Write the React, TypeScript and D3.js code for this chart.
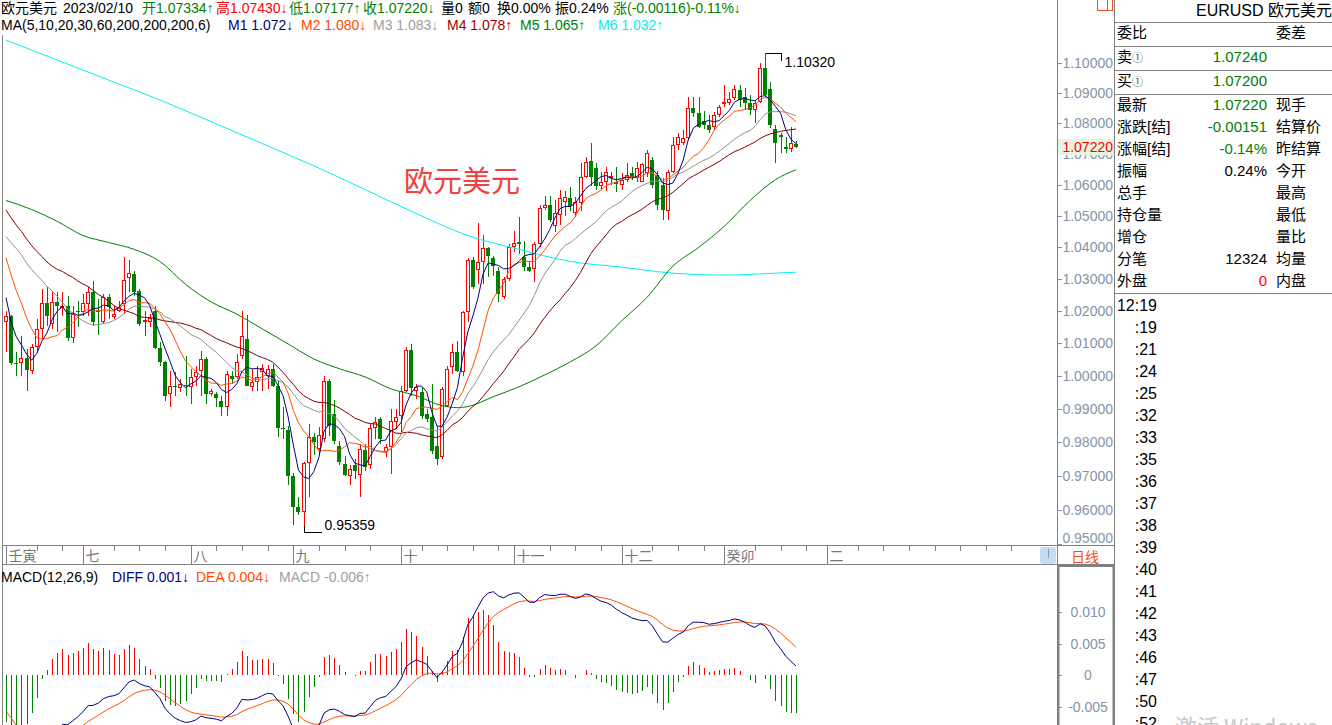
import React from "react";
import * as d3 from "d3";

// ---------- DATA ----------
// Daily closes before the visible window (used for moving averages / MACD warm-up)
const PRIOR_CLOSES = [
  1.0510, 1.0525, 1.0620, 1.0540, 1.0550, 1.0560, 1.0530, 1.0515, 1.0380, 1.0410,
  1.0435, 1.0550, 1.0465, 1.0585, 1.0565, 1.0690, 1.0735, 1.0680, 1.0725, 1.0735,
  1.0780, 1.0735, 1.0650, 1.0750, 1.0720, 1.0695, 1.0705, 1.0715, 1.0615, 1.0520,
  1.0410, 1.0415, 1.0445, 1.0545, 1.0495, 1.0510, 1.0535, 1.0565, 1.0520, 1.0555,
  1.0585, 1.0520, 1.0445, 1.0480, 1.0425, 1.0420, 1.0265, 1.0180, 1.0160,
];

const OPEN = [
  1.0166, 1.0184, 1.0040, 1.0040, 1.0055, 1.0016, 1.0089, 1.0144, 1.0225, 1.0159,
  1.0228, 1.0210, 1.0215, 1.0116, 1.0200, 1.0197, 1.0222, 1.0259, 1.0203, 1.0166,
  1.0243, 1.0181, 1.0200, 1.0222, 1.0302, 1.0315, 1.0262, 1.0166, 1.0166, 1.0200,
  1.0086, 1.0043, 0.9946, 0.9970, 0.9964, 0.9973, 0.9967, 0.9997, 1.0016, 1.0052,
  0.9946, 0.9946, 0.9925, 0.9907, 1.0000, 0.9997, 1.0061, 1.0113, 0.9967, 0.9982,
  1.0013, 1.0000, 1.0022, 0.9970, 0.9844, 0.9838, 0.9701, 0.9610, 0.9595, 0.9739,
  0.9817, 0.9781, 0.9811, 0.9985, 0.9886, 0.9790, 0.9736, 0.9701, 0.9731, 0.9704,
  0.9778, 0.9731, 0.9844, 0.9871, 0.9772, 0.9787, 0.9862, 0.9880, 0.9955, 1.0080,
  0.9955, 0.9952, 0.9886, 0.9877, 0.9790, 0.9757, 0.9910, 1.0028, 1.0074, 1.0013,
  1.0197, 1.0359, 1.0327, 1.0352, 1.0396, 1.0365, 1.0324, 1.0243, 1.0299, 1.0402,
  1.0415, 1.0368, 1.0337, 1.0330, 1.0409, 1.0526, 1.0536, 1.0466, 1.0504, 1.0545,
  1.0558, 1.0510, 1.0542, 1.0626, 1.0677, 1.0655, 1.0594, 1.0607, 1.0623, 1.0610,
  1.0600, 1.0616, 1.0639, 1.0623, 1.0610, 1.0639, 1.0681, 1.0632, 1.0600, 1.0514,
  1.0642, 1.0729, 1.0736, 1.0752, 1.0851, 1.0834, 1.0808, 1.0795, 1.0788, 1.0828,
  1.0868, 1.0868, 1.0884, 1.0910, 1.0887, 1.0868, 1.0844, 1.0871, 1.0983, 1.0913,
  1.0781, 1.0762, 1.0723, 1.0716, 1.07334,
];

const HIGH = [
  1.0200, 1.0187, 1.0074, 1.0122, 1.0083, 1.0098, 1.0175, 1.0268, 1.0274, 1.0259,
  1.0259, 1.0259, 1.0246, 1.0215, 1.0231, 1.0252, 1.0274, 1.0293, 1.0237, 1.0252,
  1.0252, 1.0215, 1.0231, 1.0368, 1.0359, 1.0324, 1.0268, 1.0200, 1.0190, 1.0215,
  1.0104, 1.0046, 1.0016, 1.0013, 0.9991, 1.0061, 1.0022, 1.0031, 1.0077, 1.0058,
  0.9961, 0.9952, 0.9940, 1.0016, 1.0016, 1.0068, 1.0200, 1.0187, 1.0022, 1.0031,
  1.0037, 1.0034, 1.0037, 0.9985, 0.9907, 0.9850, 0.9710, 0.9639, 0.9742, 0.9856,
  0.9829, 0.9847, 1.0000, 0.9991, 0.9928, 0.9805, 0.9760, 0.9731, 0.9751, 0.9796,
  0.9796, 0.9856, 0.9877, 0.9877, 0.9796, 0.9901, 0.9901, 0.9970, 1.0089, 1.0098,
  0.9976, 0.9967, 0.9901, 0.9976, 0.9850, 0.9967, 1.0031, 1.0098, 1.0107, 1.0200,
  1.0365, 1.0368, 1.0478, 1.0440, 1.0402, 1.0371, 1.0336, 1.0305, 1.0409, 1.0450,
  1.0497, 1.0420, 1.0355, 1.0415, 1.0536, 1.0564, 1.0564, 1.0552, 1.0584, 1.0580,
  1.0593, 1.0561, 1.0671, 1.0690, 1.0736, 1.0671, 1.0642, 1.0658, 1.0642, 1.0658,
  1.0639, 1.0671, 1.0658, 1.0674, 1.0671, 1.0713, 1.0690, 1.0645, 1.0620, 1.0648,
  1.0755, 1.0768, 1.0778, 1.0887, 1.0887, 1.0887, 1.0840, 1.0828, 1.0838, 1.0861,
  1.0927, 1.0903, 1.0927, 1.0927, 1.0917, 1.0894, 1.0877, 1.1000, 1.1032, 1.0937,
  1.0795, 1.0768, 1.0755, 1.0788, 1.0743,
];

const LOW = [
  1.0074, 1.0034, 1.0000, 1.0000, 0.9955, 1.0007, 1.0074, 1.0113, 1.0153, 1.0144,
  1.0135, 1.0184, 1.0107, 1.0101, 1.0150, 1.0184, 1.0184, 1.0153, 1.0126, 1.0159,
  1.0175, 1.0175, 1.0197, 1.0190, 1.0259, 1.0246, 1.0153, 1.0122, 1.0150, 1.0083,
  1.0031, 0.9925, 0.9907, 0.9940, 0.9952, 0.9940, 0.9916, 0.9970, 0.9940, 0.9916,
  0.9940, 0.9907, 0.9880, 0.9880, 0.9976, 0.9991, 1.0052, 0.9968, 0.9955, 0.9955,
  0.9955, 0.9961, 0.9967, 0.9817, 0.9811, 0.9672, 0.9555, 0.9584, 0.95359, 0.9639,
  0.9763, 0.9766, 0.9802, 0.9820, 0.9796, 0.9731, 0.9701, 0.9672, 0.9692, 0.9639,
  0.9716, 0.9722, 0.9811, 0.9796, 0.9757, 0.9707, 0.9841, 0.9832, 0.9952, 0.9940,
  0.9931, 0.9871, 0.9862, 0.9766, 0.9731, 0.9751, 0.9907, 1.0007, 1.0013, 1.0000,
  1.0166, 1.0268, 1.0284, 1.0284, 1.0305, 1.0308, 1.0228, 1.0237, 1.0293, 1.0384,
  1.0377, 1.0324, 1.0321, 1.0290, 1.0402, 1.0520, 1.0481, 1.0447, 1.0472, 1.0500,
  1.0514, 1.0497, 1.0514, 1.0622, 1.0594, 1.0584, 1.0584, 1.0578, 1.0600, 1.0575,
  1.0584, 1.0607, 1.0616, 1.0607, 1.0607, 1.0626, 1.0590, 1.0520, 1.0488, 1.0488,
  1.0639, 1.0713, 1.0729, 1.0746, 1.0821, 1.0785, 1.0780, 1.0768, 1.0778, 1.0821,
  1.0854, 1.0861, 1.0877, 1.0854, 1.0844, 1.0828, 1.0801, 1.0868, 1.0887, 1.0785,
  1.0671, 1.0703, 1.0703, 1.0706, 1.07177,
];

const CLOSE = [
  1.0184, 1.0040, 1.0037, 1.0055, 1.0019, 1.0089, 1.0144, 1.0225, 1.0184, 1.0228,
  1.0215, 1.0216, 1.0116, 1.0190, 1.0196, 1.0225, 1.0259, 1.0166, 1.0198, 1.0243,
  1.0212, 1.0190, 1.0212, 1.0296, 1.0318, 1.0259, 1.0159, 1.0172, 1.0178, 1.0086,
  1.0043, 0.9940, 0.9970, 0.9966, 0.9976, 0.9968, 0.9997, 1.0013, 1.0052, 0.9946,
  0.9955, 0.9934, 0.9907, 1.0007, 0.9991, 1.0043, 1.0122, 0.9970, 0.9982, 0.9997,
  1.0025, 1.0022, 0.9970, 0.9844, 0.9841, 0.9701, 0.9610, 0.9595, 0.9739, 0.9817,
  0.9802, 0.9823, 0.9985, 0.9850, 0.9805, 0.9742, 0.9704, 0.9722, 0.9716, 0.9781,
  0.9728, 0.9844, 0.9862, 0.9811, 0.9787, 0.9865, 0.9877, 0.9955, 1.0080, 0.9964,
  0.9967, 0.9880, 0.9871, 0.9775, 0.9751, 0.9961, 1.0022, 1.0074, 1.0016, 1.0197,
  1.0359, 1.0274, 1.0352, 1.0396, 1.0371, 1.0340, 1.0252, 1.0299, 1.0402, 1.0412,
  1.0410, 1.0337, 1.0324, 1.0409, 1.0526, 1.0533, 1.0488, 1.0510, 1.0558, 1.0561,
  1.0530, 1.0545, 1.0626, 1.0674, 1.0626, 1.0594, 1.0610, 1.0642, 1.0629, 1.0603,
  1.0616, 1.0632, 1.0626, 1.0655, 1.0668, 1.0703, 1.0600, 1.0536, 1.0520, 1.0642,
  1.0729, 1.0755, 1.0752, 1.0851, 1.0834, 1.0788, 1.0795, 1.0778, 1.0828, 1.0854,
  1.0871, 1.0881, 1.0913, 1.0877, 1.0868, 1.0844, 1.0868, 1.0983, 1.0894, 1.0795,
  1.0736, 1.0755, 1.0716, 1.0736, 1.0722,
];

// MA60 and MA200 at these bar indices
const MA60_IDX = [0, 5, 10, 15, 20, 25, 30, 35, 40, 45, 50, 55, 60, 65, 70, 75, 80, 85, 88, 90, 95, 100, 105, 110, 115, 120, 125, 130, 135, 140, 145, 150, 154];
const MA60_VAL = [1.0549, 1.0520, 1.0482, 1.0437, 1.0415, 1.0393, 1.0355, 1.0283, 1.0228, 1.0190, 1.0144, 1.0098, 1.0052, 1.0022, 0.9997, 0.9961, 0.9940, 0.9910, 0.9904, 0.9907, 0.9937, 0.9967, 1.0003, 1.0043, 1.0092, 1.0169, 1.0243, 1.0340, 1.0399, 1.0466, 1.0548, 1.0616, 1.0648];
const MA200_IDX = [0, 10, 20, 30, 40, 50, 60, 70, 80, 90, 100, 110, 120, 130, 140, 150, 154];
const MA200_VAL = [1.1077, 1.1010, 1.0943, 1.0877, 1.0805, 1.0733, 1.0661, 1.0584, 1.0507, 1.0437, 1.0393, 1.0355, 1.0337, 1.0318, 1.0312, 1.0318, 1.0321];

const PRICE_TICKS = [1.10, 1.09, 1.08, 1.07, 1.06, 1.05, 1.04, 1.03, 1.02, 1.01, 1.00, 0.99, 0.98, 0.97, 0.96, 0.95];
const MACD_TICKS = [0.01, 0.005, 0, -0.005];
const MACD_TICK_LABELS = ["0.010", "0.005", "0", "-0.005"];

const MONTH_LABELS = ["壬寅", "七", "八", "九", "十", "十一", "十二", "癸卯", "二"];
const MONTH_IDX = [0, 15, 36, 56, 77, 99, 120, 140, 160];

const LAST_PRICE = 1.0722;

const HEADER1 = [
  { t: "欧元美元", x: 1, c: "#000" },
  { t: "2023/02/10", x: 63, c: "#000" },
  { t: "开1.07334↑", x: 142, c: "#008000" },
  { t: "高1.07430↓", x: 216, c: "#ff0000" },
  { t: "低1.07177↑", x: 289, c: "#008000" },
  { t: "收1.07220↓", x: 363, c: "#008000" },
  { t: "量0", x: 441, c: "#000" },
  { t: "额0", x: 468, c: "#000" },
  { t: "换0.00%", x: 497, c: "#000" },
  { t: "振0.24%", x: 555, c: "#000" },
  { t: "涨(-0.00116)-0.11%↓", x: 613, c: "#008000" },
];
const HEADER2 = [
  { t: "MA(5,10,20,30,60,200,200,200,6)", x: 1, c: "#000" },
  { t: "M1 1.072↓", x: 228, c: "#000080" },
  { t: "M2 1.080↓", x: 301, c: "#ff4a00" },
  { t: "M3 1.083↓", x: 373, c: "#a0a0a0" },
  { t: "M4 1.078↑", x: 447, c: "#990000" },
  { t: "M5 1.065↑", x: 520, c: "#008000" },
  { t: "M6 1.032↑", x: 598, c: "#00f0f0" },
];
const MACD_HEADER = [
  { t: "MACD(12,26,9)", x: 1, c: "#000" },
  { t: "DIFF 0.001↓", x: 112, c: "#000080" },
  { t: "DEA 0.004↓", x: 196, c: "#ff4a00" },
  { t: "MACD -0.006↑", x: 279, c: "#a0a0a0" },
];

const PANEL_ROWS = [
  ["最新", "1.07220", "现手", "#008000"],
  ["涨跌[结]", "-0.00151", "结算价", "#008000"],
  ["涨幅[结]", "-0.14%", "昨结算", "#008000"],
  ["振幅", "0.24%", "今开", "#000"],
  ["总手", "", "最高", "#000"],
  ["持仓量", "", "最低", "#000"],
  ["增仓", "", "量比", "#000"],
  ["分笔", "12324", "均量", "#000"],
  ["外盘", "0", "内盘", "#ff0000"],
];
const TIMES = ["12:19", ":19", ":21", ":24", ":25", ":32", ":33", ":35", ":36", ":37", ":38", ":39", ":40", ":41", ":42", ":43", ":46", ":47", ":50", ":52"];

const FONT = "Arial, 'Liberation Sans', 'Noto Sans CJK SC', sans-serif";
const CJK = "'Noto Sans CJK SC', Arial, sans-serif";
const UP = "#ff0000";
const DOWN = "#008000";
const AXIS_TXT = "#8494aa";
const LINE = "#808080";

function ema(arr: number[], n: number) {
  const k = 2 / (n + 1);
  let e = arr[0];
  return arr.map((v, i) => (e = i === 0 ? v : e + k * (v - e)));
}

export default function App() {
  const N = CLOSE.length;
  const P = PRIOR_CLOSES.length;
  const x = d3.scaleLinear().domain([0, N - 1]).range([6, 796]);
  const y = d3.scaleLog().domain([0.96, 1.1]).range([510, 63]);
  const ym = d3.scaleLinear().domain([-0.005, 0.01]).range([706.5, 612]);

  const all = PRIOR_CLOSES.concat(CLOSE);
  const ma = (n: number) => CLOSE.map((_, i) => d3.mean(all.slice(P + i - n + 1, P + i + 1)) as number);
  const maLines = [
    { v: ma(30), c: "#800000" },
    { v: ma(20), c: "#909090" },
    { v: ma(10), c: "#ff5000" },
    { v: ma(5), c: "#000080" },
  ];
  const lineGen = d3.line<number>().x((_, i) => x(i)).y((d) => y(d));
  const sampled = d3
    .line<[number, number]>()
    .x((d) => x(d[0]))
    .y((d) => y(d[1]))
    .curve(d3.curveMonotoneX);
  const ma60 = MA60_IDX.map((k, j) => [k, MA60_VAL[j]] as [number, number]);
  const ma200 = MA200_IDX.map((k, j) => [k, MA200_VAL[j]] as [number, number]);

  const e12 = ema(all, 12);
  const e26 = ema(all, 26);
  const diffAll = all.map((_, i) => e12[i] - e26[i]);
  const deaAll = ema(diffAll, 9);
  const diff = diffAll.slice(P);
  const dea = deaAll.slice(P);
  const hist = diff.map((d, i) => 2 * (d - dea[i]));
  const macdLine = d3.line<number>().x((_, i) => x(i)).y((d) => ym(d));

  const hiI = d3.maxIndex(HIGH);
  const loI = d3.minIndex(LOW);
  const px = (i: number) => Math.round(x(i)) + 0.5;

  const weekTicks: number[] = [];
  for (let i = 1; x(i) < 1036; i += 5) {
    if (MONTH_IDX.every((m) => Math.abs(m - i) > 2)) weekTicks.push(i);
  }

  const fmt = d3.format(".5f");
  const lastY = Math.round(y(LAST_PRICE));

  return (
    <svg
      width={1332}
      height={725}
      style={{ position: "absolute", left: 0, top: 0, background: "#fff" }}
      fontFamily={FONT}
    >
      <defs>
        <clipPath id="mainClip">
          <rect x={2} y={33} width={1055} height={512} />
        </clipPath>
        <clipPath id="macdClip">
          <rect x={2} y={566} width={1055} height={159} />
        </clipPath>
        <clipPath id="under">
          <rect x={1058} y={lastY + 8} width={56} height={10} />
        </clipPath>
      </defs>
      <rect x={0} y={0} width={1332} height={725} fill="#fff" />

      {/* header rows */}
      <g fontSize={14}>
        {HEADER1.map((h) => (
          <text key={h.t} x={h.x} y={13} fill={h.c}>
            {h.t}
          </text>
        ))}
        {HEADER2.map((h) => (
          <text key={h.t} x={h.x} y={30} fill={h.c}>
            {h.t}
          </text>
        ))}
      </g>

      {/* frame lines */}
      <g stroke={LINE} strokeWidth={1} shapeRendering="crispEdges">
        <line x1={2.5} y1={35} x2={2.5} y2={725} />
        <line x1={1057.5} y1={0} x2={1057.5} y2={725} />
        <line x1={1114.5} y1={0} x2={1114.5} y2={725} />
        <line x1={2} y1={545.5} x2={1114} y2={545.5} />
        <line x1={2} y1={564.5} x2={1114} y2={564.5} />
      </g>

      {/* watermark name */}
      <text x={404} y={192} fontSize={29} fill="#f04040" fontFamily={CJK}>
        欧元美元
      </text>

      {/* candles */}
      <g clipPath="url(#mainClip)" shapeRendering="crispEdges">
        {CLOSE.map((c, i) => {
          const o = OPEN[i];
          const cx = px(i);
          const up = c >= o;
          const top = Math.round(y(Math.max(o, c)));
          const bot = Math.round(y(Math.min(o, c)));
          const hy = Math.round(y(HIGH[i]));
          const ly = Math.round(y(LOW[i]));
          const col = up ? UP : DOWN;
          if (up) {
            const h = Math.max(bot - top, 1);
            return (
              <g key={i} stroke={col}>
                <line x1={cx} x2={cx} y1={hy} y2={top} />
                <line x1={cx} x2={cx} y1={top + h} y2={ly} />
                <rect x={cx - 2} y={top + 0.5} width={3} height={Math.max(h - 1, 0.5)} fill="#fff" />
              </g>
            );
          }
          return (
            <g key={i}>
              <line x1={cx} x2={cx} y1={hy} y2={ly} stroke={col} />
              <rect x={cx - 2.5} y={top} width={4} height={Math.max(bot - top, 1)} fill={col} />
            </g>
          );
        })}
      </g>

      {/* moving averages */}
      <g clipPath="url(#mainClip)" fill="none" strokeWidth={1}>
        <path d={sampled(ma200) || ""} stroke="#00f0f0" />
        <path d={sampled(ma60) || ""} stroke="#008000" />
        {maLines.map((m, k) => (
          <path key={k} d={lineGen(m.v) || ""} stroke={m.c} />
        ))}
      </g>

      {/* high / low annotations */}
      <g stroke="#000" strokeWidth={1} shapeRendering="crispEdges" fill="none">
        <polyline points={`${px(hiI)},${Math.round(y(HIGH[hiI])) + 0.5} ${px(hiI) + 16},${Math.round(y(HIGH[hiI])) + 0.5} ${px(hiI) + 16},${Math.round(y(HIGH[hiI])) + 8}`} />
        <polyline points={`${px(loI)},${Math.round(y(LOW[loI])) - 6} ${px(loI)},${Math.round(y(LOW[loI])) + 0.5} ${px(loI) + 17},${Math.round(y(LOW[loI])) + 0.5}`} />
      </g>
      <text x={px(hiI) + 19} y={Math.round(y(HIGH[hiI])) + 14} fontSize={14} fill="#000">
        {fmt(HIGH[hiI])}
      </text>
      <text x={px(loI) + 20} y={Math.round(y(LOW[loI])) - 2} fontSize={14} fill="#000">
        {fmt(LOW[loI])}
      </text>

      {/* price axis */}
      <g fontSize={14} fill={AXIS_TXT}>
        {PRICE_TICKS.map((t) => {
          const ty = Math.round(y(t));
          const ly = Math.min(ty, 538);
          const hidden = Math.abs(ty - lastY) < 12;
          return (
            <g key={t}>
              {ty < 545 && <line x1={1058} x2={1062} y1={ty + 0.5} y2={ty + 0.5} stroke={AXIS_TXT} shapeRendering="crispEdges" />}
              <text x={1113} y={ly + 5} textAnchor="end" clipPath={hidden ? "url(#under)" : undefined}>
                {fmt(t)}
              </text>
            </g>
          );
        })}
      </g>
      <rect x={1058} y={lastY - 8} width={56} height={16} fill="#e9f3e3" />
      <text x={1113} y={lastY + 5} textAnchor="end" fontSize={14} fill="#ff0000">
        {fmt(LAST_PRICE)}
      </text>

      {/* top-right small icon */}
      <g stroke="#e8501e" fill="none" shapeRendering="crispEdges">
        <rect x={1097.5} y={-0.5} width={15} height={11} />
        <line x1={1107.5} x2={1107.5} y1={0} y2={11} />
      </g>

      {/* date axis */}
      <g stroke={LINE} shapeRendering="crispEdges">
        {weekTicks.map((i) => (
          <line key={i} x1={px(i)} x2={px(i)} y1={546} y2={551} />
        ))}
        {MONTH_IDX.map((i) => (
          <line key={"m" + i} x1={px(i)} x2={px(i)} y1={546} y2={564} />
        ))}
      </g>
      <g fontSize={14} fill="#777" fontFamily={CJK}>
        {MONTH_LABELS.map((m, k) => (
          <text key={m} x={px(MONTH_IDX[k]) + 2} y={561}>
            {m}
          </text>
        ))}
      </g>
      <rect x={1040} y={547} width={16} height={17} rx={3} fill="#c6dcf3" />
      <line x1={1048.5} x2={1048.5} y1={549} y2={558} stroke="#8a9ab0" />
      <text x={1071} y={562} fontSize={14} fill="#f05014" fontFamily={CJK}>
        日线
      </text>

      {/* MACD */}
      <g fontSize={14}>
        {MACD_HEADER.map((h) => (
          <text key={h.t} x={h.x} y={582} fill={h.c}>
            {h.t}
          </text>
        ))}
      </g>
      <g clipPath="url(#macdClip)">
        <g shapeRendering="crispEdges">
          {hist.map((h, i) => (
            <line
              key={i}
              x1={px(i)}
              x2={px(i)}
              y1={Math.round(ym(0))}
              y2={Math.round(ym(h))}
              stroke={h >= 0 ? UP : DOWN}
            />
          ))}
        </g>
        <path d={macdLine(dea) || ""} fill="none" stroke="#ff5000" strokeWidth={1} />
        <path d={macdLine(diff) || ""} fill="none" stroke="#000080" strokeWidth={1} />
      </g>
      <rect x={1058.5} y={566} width={55} height={162} fill="none" stroke="#808080" strokeWidth={2} />
      <g fontSize={14} fill={AXIS_TXT}>
        {MACD_TICKS.map((t, k) => (
          <g key={t}>
            <line x1={1059} x2={1062} y1={Math.round(ym(t)) + 0.5} y2={Math.round(ym(t)) + 0.5} stroke={AXIS_TXT} shapeRendering="crispEdges" />
            <text x={1088} y={Math.round(ym(t)) + 5} textAnchor="middle">
              {MACD_TICK_LABELS[k]}
            </text>
          </g>
        ))}
      </g>

      {/* right info panel */}
      <g fontSize={15} fill="#000">
        <text x={1196} y={16} fontSize={16}>
          EURUSD 欧元美元
        </text>
        <g stroke={LINE} shapeRendering="crispEdges">
          {[22, 46, 70, 94, 293].map((ly) => (
            <line key={ly} x1={1115} x2={1332} y1={ly + 0.5} y2={ly + 0.5} />
          ))}
        </g>
        <text x={1117} y={38}>委比</text>
        <text x={1276} y={38}>委差</text>
        <text x={1117} y={62}>
          卖<tspan fontSize={11} fill="#555">①</tspan>
        </text>
        <text x={1267} y={62} textAnchor="end" fill="#008000">1.07240</text>
        <text x={1117} y={86}>
          买<tspan fontSize={11} fill="#555">①</tspan>
        </text>
        <text x={1267} y={86} textAnchor="end" fill="#008000">1.07200</text>
        {PANEL_ROWS.map((r, k) => (
          <g key={r[0]}>
            <text x={1117} y={110 + 22 * k}>{r[0]}</text>
            <text x={1267} y={110 + 22 * k} textAnchor="end" fill={r[3]}>
              {r[1]}
            </text>
            <text x={1276} y={110 + 22 * k}>{r[2]}</text>
          </g>
        ))}
        {TIMES.map((t, k) => (
          <text key={k} x={1157} y={311 + 22 * k} textAnchor="end" fontSize={16}>
            {t}
          </text>
        ))}
      </g>
      <text x={1175} y={735} fontSize={22} fill="#c8c8c8" fontFamily={CJK}>
        激活 Windows
      </text>
    </svg>
  );
}
